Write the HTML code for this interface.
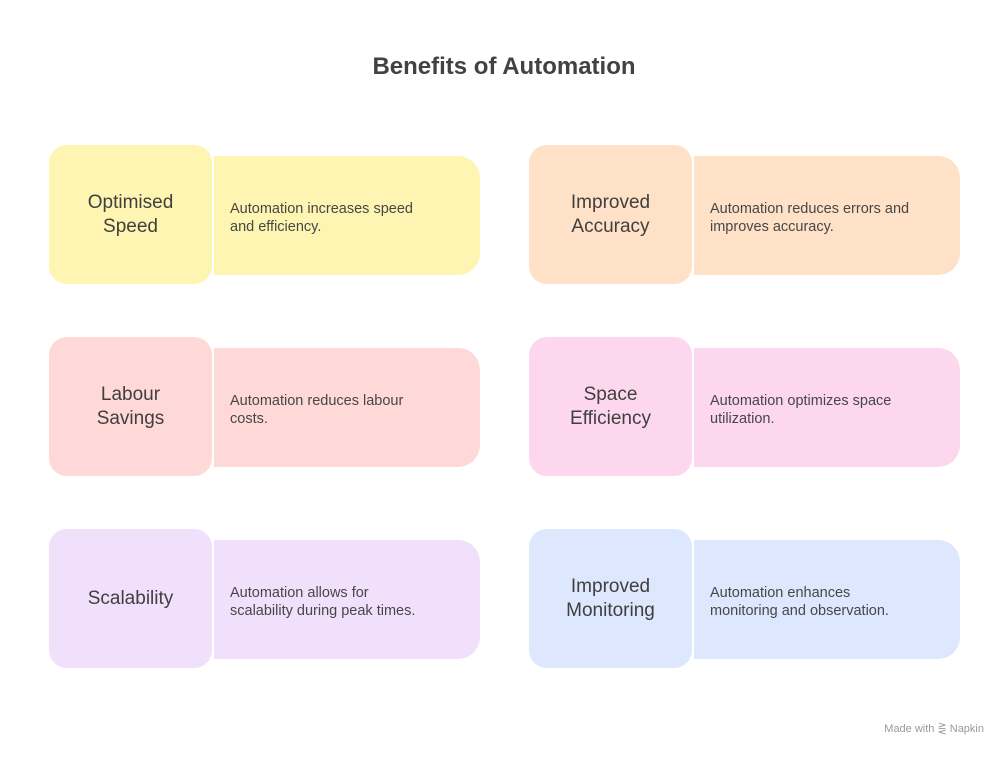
<!DOCTYPE html>
<html><head><meta charset="utf-8"><style>
html,body{margin:0;padding:0;background:#fff;}
body{width:1008px;height:757px;position:relative;overflow:hidden;font-family:"Liberation Sans",sans-serif;color:#444;}
.t{position:absolute;left:0;width:1008px;top:53px;text-align:center;font-size:24px;font-weight:bold;color:#424242;}
.sq{position:absolute;width:163px;height:139px;border-radius:20px;border:2px solid #fff;display:flex;align-items:center;justify-content:center;text-align:center;font-size:19px;line-height:24px;color:#3f3f3f;z-index:2;box-sizing:content-box;margin:-2px 0 0 -2px;}
.bx{position:absolute;width:266px;height:119px;border-radius:0 22px 22px 0;display:flex;align-items:center;box-sizing:border-box;padding-left:16px;padding-top:4px;font-size:14.5px;line-height:18px;color:#474747;white-space:nowrap;}
.ft{position:absolute;right:24px;top:722px;font-size:11px;color:#999;}
</style></head><body>
<div class="t">Benefits of Automation</div>

<div class="bx" style="left:214px;top:156px;background:#fef5b2">Automation increases speed<br>and efficiency.</div>
<div class="sq" style="left:49px;top:145px;background:#fef5b2">Optimised<br>Speed</div>

<div class="bx" style="left:694px;top:156px;background:#fee1c6">Automation reduces errors and<br>improves accuracy.</div>
<div class="sq" style="left:529px;top:145px;background:#fee1c6">Improved<br>Accuracy</div>

<div class="bx" style="left:214px;top:348px;background:#fed9d8">Automation reduces labour<br>costs.</div>
<div class="sq" style="left:49px;top:337px;background:#fed9d8">Labour<br>Savings</div>

<div class="bx" style="left:694px;top:348px;background:#fdd7ee">Automation optimizes space<br>utilization.</div>
<div class="sq" style="left:529px;top:337px;background:#fdd7ee">Space<br>Efficiency</div>

<div class="bx" style="left:214px;top:540px;background:#f1e0fb">Automation allows for<br>scalability during peak times.</div>
<div class="sq" style="left:49px;top:529px;background:#f1e0fb">Scalability</div>

<div class="bx" style="left:694px;top:540px;background:#dde7fd">Automation enhances<br>monitoring and observation.</div>
<div class="sq" style="left:529px;top:529px;background:#dde7fd">Improved<br>Monitoring</div>

<div class="ft">Made with ⋛ Napkin</div>
</body></html>
